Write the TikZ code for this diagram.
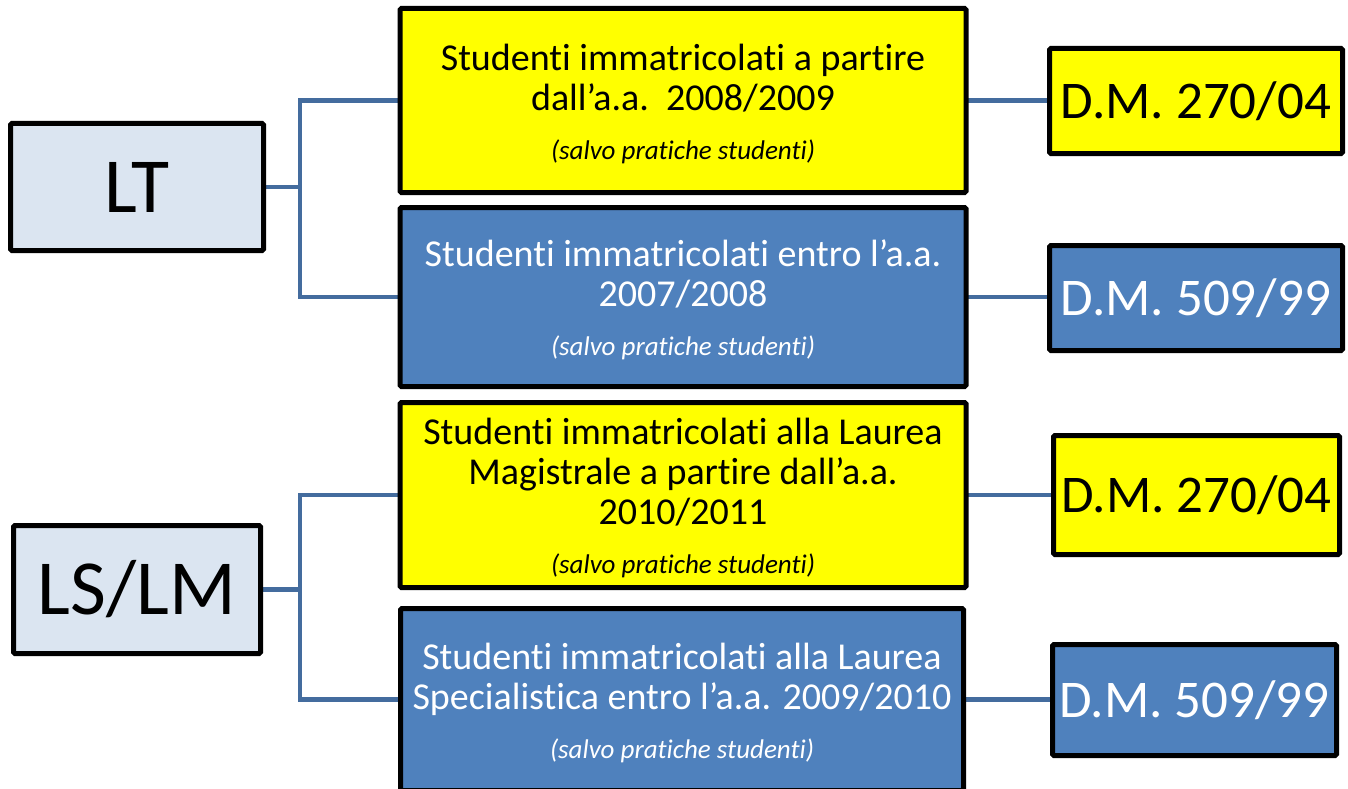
\documentclass[tikz,border=0pt]{standalone}
\usepackage{fontspec}
\setmainfont[Ligatures={CommonOff,ContextualOff}]{Carlito}
\usetikzlibrary{backgrounds}
\definecolor{yelF}{RGB}{255,255,0}
\definecolor{bluF}{RGB}{79,129,189}
\definecolor{ltF}{RGB}{219,229,241}
\definecolor{conC}{RGB}{68,108,158}
\tikzset{
  box/.style={draw=black, line width=5pt, rounded corners=1.5pt, inner sep=0pt, align=center, outer sep=0pt},
  ybox/.style={box, fill=yelF, text=black},
  bbox/.style={box, fill=bluF, text=white},
  lbox/.style={box, fill=ltF, text=black},
  conn/.style={draw=conC, line width=4.5pt},
  maintxt/.style={font=\fontsize{38}{40}\selectfont},
  dmtxt/.style={font=\fontsize{53}{58}\selectfont},
  bigtxt/.style={font=\fontsize{78}{82}\selectfont},
}
\newcommand{\salvo}{\\[9pt]{\fontsize{27}{30}\selectfont\itshape (salvo pratiche studenti)}}
\begin{document}
\begin{tikzpicture}[x=1pt,y=-1pt]
\useasboundingbox (0,0) rectangle (1348,789);
% left boxes
\node[lbox, bigtxt, minimum width=253, minimum height=127] (lt) at (137,187) {LT};
\node[lbox, bigtxt, minimum width=247, minimum height=128] (ls) at (137,589.5) {LS/LM};
% middle boxes
\node[ybox, maintxt, minimum width=566, minimum height=184] (y1) at (683,100.5)
  {\rule{0pt}{33pt}Studenti immatricolati a partire\\dall’a.a.\ \ 2008/2009\salvo};
\node[bbox, maintxt, minimum width=566, minimum height=179] (b1) at (683,297)
  {\rule{0pt}{33pt}Studenti immatricolati entro l’a.a.\\2007/2008\salvo};
\node[ybox, maintxt, minimum width=566, minimum height=185] (y2) at (683,495)
  {\rule{0pt}{33pt}Studenti immatricolati alla Laurea\\Magistrale a partire dall’a.a.\\2010/2011\salvo};
\node[bbox, maintxt, minimum width=563, minimum height=182] (b2) at (682,699.5)
  {\rule{0pt}{33pt}Studenti immatricolati alla Laurea\\Specialistica entro l’a.a. 2009/2010\salvo};
% right boxes
\node[ybox, dmtxt, minimum width=293, minimum height=105] (d1) at (1196,101) {D.M. 270/04};
\node[bbox, dmtxt, minimum width=293, minimum height=105] (d2) at (1196,298) {D.M. 509/99};
\node[ybox, dmtxt, minimum width=286, minimum height=119] (d3) at (1196.5,495) {D.M. 270/04};
\node[bbox, dmtxt, minimum width=284, minimum height=111] (d4) at (1194.5,700) {D.M. 509/99};
% junctions
\coordinate (j1) at (300,187);
\coordinate (j2) at (300,589.5);
% connectors
\begin{scope}[on background layer]
\draw[conn] (lt.east) -- (j1);
\draw[conn] (y1.west) -| (j1) |- (b1.west);
\draw[conn] (ls.east) -- (j2);
\draw[conn] (y2.west) -| (j2) |- (b2.west);
\draw[conn] (y1.east) -- (d1.west |- y1.east);
\draw[conn] (b1.east) -- (d2.west |- b1.east);
\draw[conn] (y2.east) -- (d3.west |- y2.east);
\draw[conn] (b2.east) -- (d4.west |- b2.east);
\end{scope}
\end{tikzpicture}
\end{document}
